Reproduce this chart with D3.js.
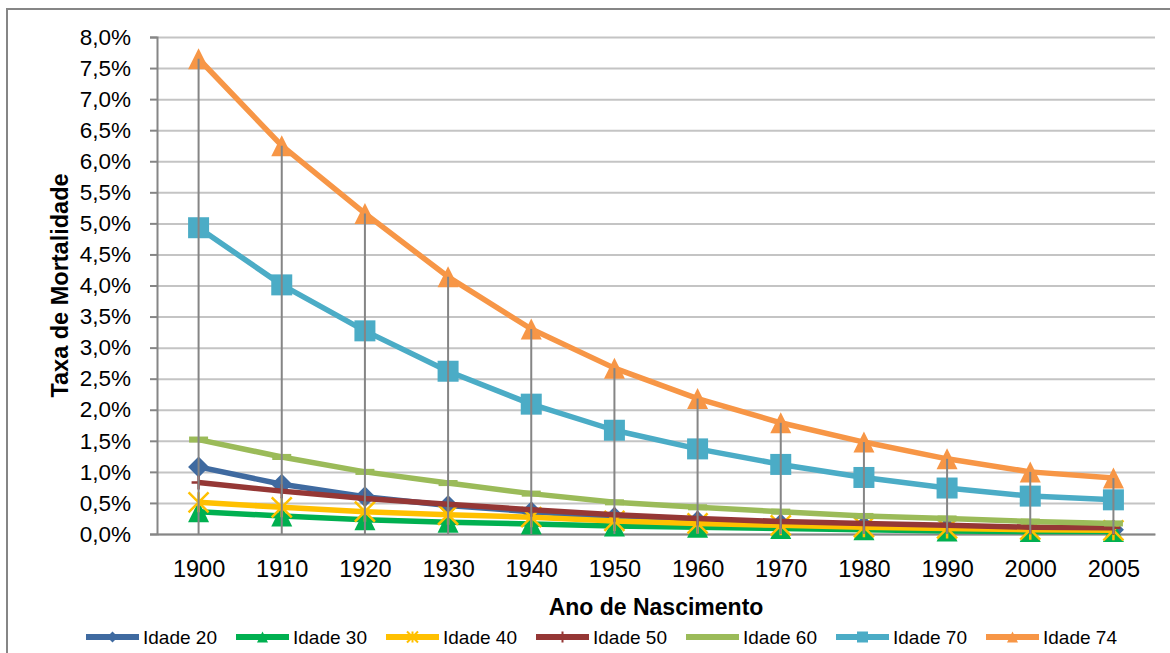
<!DOCTYPE html>
<html>
<head>
<meta charset="utf-8">
<script src="https://cdn.jsdelivr.net/npm/d3@7"></script>
<style>
  html, body { margin: 0; padding: 0; background: #fff; }
  svg { display: block; font-family: "Liberation Sans", Arial, sans-serif; }
</style>
</head>
<body>
<svg id="chart" width="1170" height="653"></svg>
<script>
// Birth-year categories on the x axis
const anos = ["1900", "1910", "1920", "1930", "1940", "1950", "1960", "1970", "1980", "1990", "2000", "2005"];

// Mortality rate (%) by age, per birth cohort
const idade20 = [1.08, 0.80, 0.60, 0.46, 0.36, 0.27, 0.21, 0.16, 0.13, 0.10, 0.08, 0.07];
const idade30 = [0.36, 0.29, 0.23, 0.19, 0.16, 0.13, 0.11, 0.09, 0.07, 0.05, 0.04, 0.04];
const idade40 = [0.51, 0.43, 0.36, 0.31, 0.27, 0.21, 0.17, 0.14, 0.11, 0.09, 0.07, 0.06];
const idade50 = [0.83, 0.69, 0.57, 0.48, 0.39, 0.31, 0.25, 0.20, 0.17, 0.14, 0.11, 0.10];
const idade60 = [1.52, 1.24, 1.00, 0.82, 0.65, 0.51, 0.43, 0.36, 0.29, 0.25, 0.20, 0.17];
const idade70 = [4.93, 4.01, 3.27, 2.62, 2.09, 1.67, 1.37, 1.12, 0.91, 0.74, 0.61, 0.55];
const idade74 = [7.65, 6.25, 5.16, 4.14, 3.30, 2.67, 2.18, 1.79, 1.48, 1.21, 1.00, 0.90];

// Y axis tick values (%)
const yTicks = [0, 0.5, 1, 1.5, 2, 2.5, 3, 3.5, 4, 4.5, 5, 5.5, 6, 6.5, 7, 7.5, 8];

const series = [
  { name: "Idade 20", values: idade20, color: "#3F6AA0", marker: "diamond", width: 5.5 },
  { name: "Idade 30", values: idade30, color: "#00B050", marker: "triangle", width: 5.5 },
  { name: "Idade 40", values: idade40, color: "#FFC000", marker: "star", width: 5.5 },
  { name: "Idade 50", values: idade50, color: "#953735", marker: "plus", width: 5.5 },
  { name: "Idade 60", values: idade60, color: "#9BBB59", marker: "dash", width: 5.5 },
  { name: "Idade 70", values: idade70, color: "#4BACC6", marker: "square", width: 5.5 },
  { name: "Idade 74", values: idade74, color: "#F79646", marker: "triangle", width: 5.5 }
];

const svg = d3.select("#chart");

// outer chart frame
svg.append("rect")
  .attr("x", 7).attr("y", 9).attr("width", 1180).attr("height", 660)
  .attr("fill", "#fff").attr("stroke", "#868686").attr("stroke-width", 2);

const plot = { left: 157, right: 1155, top: 37, bottom: 534 };

const x = d3.scalePoint().domain(anos).range([plot.left, plot.right]).padding(0.5);
const y = d3.scaleLinear().domain([0, 8]).range([plot.bottom, plot.top]);

const fmt = d => d.toFixed(1).replace(".", ",") + "%";

// horizontal gridlines
svg.append("g")
  .attr("transform", `translate(${plot.left},0)`)
  .call(d3.axisLeft(y).tickValues(yTicks).tickSize(-(plot.right - plot.left)).tickFormat(""))
  .call(g => g.select(".domain").remove())
  .call(g => g.selectAll("line").attr("stroke", "#c4c4c4").attr("stroke-width", 2));

// y axis
svg.append("g")
  .attr("transform", `translate(${plot.left},0)`)
  .call(d3.axisLeft(y).tickValues(yTicks).tickSize(7).tickPadding(19).tickFormat(fmt))
  .call(g => g.select(".domain").attr("stroke", "#868686").attr("stroke-width", 2))
  .call(g => g.selectAll("line").attr("stroke", "#868686").attr("stroke-width", 2))
  .call(g => g.selectAll("text").attr("font-size", 22.5).attr("fill", "#000"));

// x axis
svg.append("g")
  .attr("transform", `translate(0,${plot.bottom})`)
  .call(d3.axisBottom(x).tickSize(0).tickPadding(26))
  .call(g => g.select(".domain").attr("stroke", "#868686").attr("stroke-width", 2))
  .call(g => g.selectAll("text").attr("font-size", 23.5).attr("fill", "#000"));

// axis titles
svg.append("text")
  .attr("x", (plot.left + plot.right) / 2).attr("y", 615)
  .attr("text-anchor", "middle").attr("font-weight", "bold").attr("font-size", 23)
  .text("Ano de Nascimento");

svg.append("text")
  .attr("transform", `translate(68,${(plot.top + plot.bottom) / 2}) rotate(-90)`)
  .attr("text-anchor", "middle").attr("font-weight", "bold").attr("font-size", 23.5)
  .text("Taxa de Mortalidade");

// marker shapes, centred on (0,0)
function markerPath(type, s) {
  const h = s / 2;
  switch (type) {
    case "diamond": return `M0,${-h}L${h},0L0,${h}L${-h},0Z`;
    case "triangle": return `M0,${-h}L${h},${h}L${-h},${h}Z`;
    case "square": return `M${-h},${-h}H${h}V${h}H${-h}Z`;
    case "star": return `M${-h},${-h}L${h},${h}M${h},${-h}L${-h},${h}M0,${-h}V${h}`;
    case "plus": return `M${-h},0H${h}M0,${-h}V${h}`;
    case "dash": return `M${-h},${-s * 0.16}H${h}V${s * 0.16}H${-h}Z`;
  }
}
const strokeMarkers = new Set(["star", "plus"]);
const markerSize = { diamond: 21, triangle: 21, square: 21, star: 20, plus: 14, dash: 19 };

const line = d3.line().x(d => x(d.ano)).y(d => y(d.v));

series.forEach(s => {
  const pts = anos.map((a, i) => ({ ano: a, v: s.values[i] }));
  const g = svg.append("g");
  g.append("path")
    .attr("d", line(pts))
    .attr("fill", "none").attr("stroke", s.color).attr("stroke-width", s.width)
    .attr("stroke-linejoin", "round");
  g.selectAll("path.mk").data(pts).join("path")
    .attr("class", "mk")
    .attr("transform", d => `translate(${x(d.ano)},${y(d.v)})`)
    .attr("d", markerPath(s.marker, markerSize[s.marker]))
    .attr("fill", strokeMarkers.has(s.marker) ? "none" : s.color)
    .attr("stroke", strokeMarkers.has(s.marker) ? s.color : "none")
    .attr("stroke-width", 2.5);
});

// drop lines from the highest point of each year down to the axis
const maxPorAno = anos.map((a, i) => ({ ano: a, v: d3.max(series, s => s.values[i]) }));
svg.append("g").selectAll("line").data(maxPorAno).join("line")
  .attr("x1", d => x(d.ano)).attr("x2", d => x(d.ano))
  .attr("y1", d => y(d.v)).attr("y2", y(0))
  .attr("stroke", "#858585").attr("stroke-width", 2);

// legend
const legend = svg.append("g").attr("transform", "translate(86,637)");
series.forEach((s, i) => {
  const g = legend.append("g").attr("transform", `translate(${i * 150},0)`);
  g.append("line").attr("x1", 0).attr("x2", 53).attr("y1", 0).attr("y2", 0)
    .attr("stroke", s.color).attr("stroke-width", 6);
  if (s.marker !== "dash") {
    g.append("path")
      .attr("transform", "translate(26.5,0)")
      .attr("d", markerPath(s.marker, 11))
      .attr("fill", strokeMarkers.has(s.marker) ? "none" : s.color)
      .attr("stroke", strokeMarkers.has(s.marker) ? s.color : "none")
      .attr("stroke-width", 2);
  }
  g.append("text").attr("x", 57).attr("y", 0).attr("dy", "0.35em")
    .attr("font-size", 19).attr("fill", "#000").text(s.name);
});
</script>
</body>
</html>
